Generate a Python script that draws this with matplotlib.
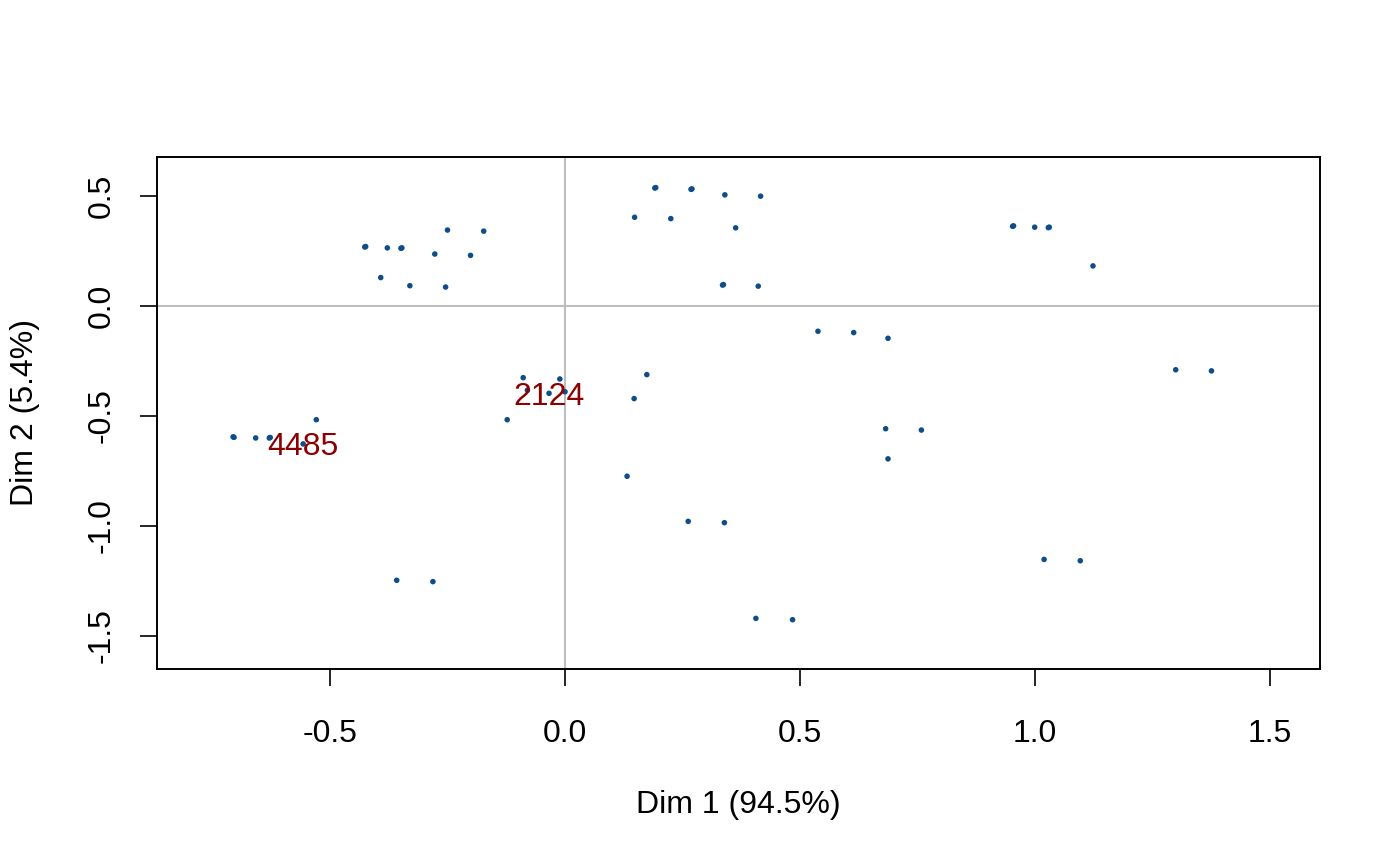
import matplotlib
matplotlib.use('Agg')
import matplotlib.pyplot as plt

plt.rcParams['font.family'] = ['Liberation Sans', 'DejaVu Sans']

# coordenadas de los individuos (Dim 1, Dim 2)
dim1 = [-0.426, -0.424, -0.378, -0.349, -0.347, -0.277, -0.250, -0.173, -0.201,
        -0.392, -0.330, -0.254,
        0.191, 0.193, 0.268, 0.270, 0.340, 0.416, 0.148, 0.225, 0.363,
        0.335, 0.337, 0.411, 0.538, 0.614, 0.687,
        0.952, 0.954, 0.999, 1.028, 1.030, 1.123, 1.299, 1.375,
        -0.706, -0.704, -0.658, -0.629, -0.627, -0.557, -0.529,
        -0.123, -0.089, -0.080, -0.011, 0.000, -0.034,
        0.174, 0.147, 0.132,
        -0.358, -0.281, 0.262, 0.339, 0.406, 0.484,
        0.682, 0.758, 0.687, 1.019, 1.096]
dim2 = [0.268, 0.270, 0.264, 0.262, 0.264, 0.236, 0.345, 0.340, 0.230,
        0.129, 0.092, 0.086,
        0.536, 0.538, 0.530, 0.532, 0.505, 0.499, 0.403, 0.397, 0.355,
        0.095, 0.097, 0.090, -0.115, -0.121, -0.147,
        0.362, 0.364, 0.358, 0.356, 0.358, 0.182, -0.290, -0.295,
        -0.595, -0.597, -0.600, -0.600, -0.598, -0.627, -0.517,
        -0.517, -0.326, -0.383, -0.332, -0.390, -0.397,
        -0.312, -0.421, -0.774,
        -1.247, -1.253, -0.979, -0.985, -1.420, -1.426,
        -0.558, -0.564, -0.695, -1.152, -1.158]

etiquetas = ['4485', '2124']
etiq_x = [-0.557, -0.034]
etiq_y = [-0.627, -0.397]

fig = plt.figure(figsize=(14, 8.66), dpi=100)
ax = fig.add_axes([0.1121, 0.2275, 0.8308, 0.5912])

ax.axhline(0, color='#bebebe', lw=1.5, zorder=1)
ax.axvline(0, color='#bebebe', lw=1.5, zorder=1)
ax.scatter(dim1, dim2, s=16, color='#0f4c8a', edgecolors='none', zorder=2)

for t, x, y in zip(etiquetas, etiq_x, etiq_y):
    ax.text(x, y, t, color='#8b0000', fontsize=23, ha='center',
            va='center_baseline', zorder=3)

ax.set_xlim(-0.868, 1.606)
ax.set_ylim(-1.65, 0.677)
ax.set_xticks([-0.5, 0.0, 0.5, 1.0, 1.5])
ax.set_yticks([-1.5, -1.0, -0.5, 0.0, 0.5])
ax.set_xticklabels(['-0.5', '0.0', '0.5', '1.0', '1.5'])
ax.set_yticklabels(['-1.5', '-1.0', '-0.5', '0.0', '0.5'], rotation=90, va='center')
ax.tick_params(direction='out', length=12, width=1.2, labelsize=23)
ax.tick_params(axis='x', pad=24)
ax.tick_params(axis='y', pad=17)
for sp in ax.spines.values():
    sp.set_linewidth(1.4)

fig.text(0.5275, 1 - 805 / 866, 'Dim 1 (94.5%)', fontsize=23, ha='center', va='center')
fig.text(25 / 1400, 1 - 413 / 866, 'Dim 2 (5.4%)', fontsize=23, ha='center', va='center',
         rotation=90)

plt.savefig('out.png', dpi=100)
